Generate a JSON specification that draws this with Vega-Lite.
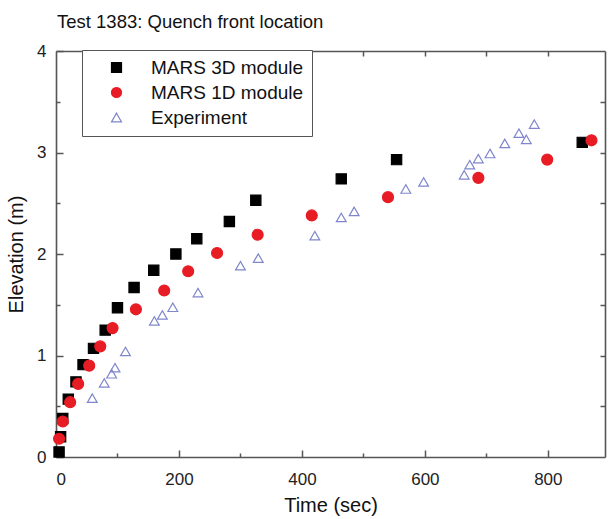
{
  "$schema": "https://vega.github.io/schema/vega-lite/v6.json",
  "width": 549,
  "height": 406,
  "autosize": {"type": "none"},
  "padding": {"left": 56, "top": 51, "right": 5, "bottom": 62},
  "title": {
    "text": "Test 1383: Quench front location",
    "anchor": "start",
    "frame": "group",
    "fontSize": 18.5,
    "fontWeight": "normal",
    "font": "Liberation Sans",
    "color": "#111",
    "offset": 11,
    "dx": 1
  },
  "data": {
    "values": [
      {"s": "MARS 3D module", "t": 5, "e": 0.05},
      {"s": "MARS 3D module", "t": 7.5, "e": 0.2},
      {"s": "MARS 3D module", "t": 11, "e": 0.38},
      {"s": "MARS 3D module", "t": 20, "e": 0.57},
      {"s": "MARS 3D module", "t": 32.5, "e": 0.74},
      {"s": "MARS 3D module", "t": 44, "e": 0.91},
      {"s": "MARS 3D module", "t": 61, "e": 1.07},
      {"s": "MARS 3D module", "t": 80, "e": 1.25},
      {"s": "MARS 3D module", "t": 100, "e": 1.47},
      {"s": "MARS 3D module", "t": 127, "e": 1.67},
      {"s": "MARS 3D module", "t": 159, "e": 1.84},
      {"s": "MARS 3D module", "t": 195, "e": 2.0},
      {"s": "MARS 3D module", "t": 229, "e": 2.15},
      {"s": "MARS 3D module", "t": 282, "e": 2.32},
      {"s": "MARS 3D module", "t": 325, "e": 2.53},
      {"s": "MARS 3D module", "t": 464, "e": 2.74},
      {"s": "MARS 3D module", "t": 554, "e": 2.93},
      {"s": "MARS 3D module", "t": 856, "e": 3.1},
      {"s": "MARS 1D module", "t": 5, "e": 0.18},
      {"s": "MARS 1D module", "t": 11, "e": 0.35},
      {"s": "MARS 1D module", "t": 23, "e": 0.54},
      {"s": "MARS 1D module", "t": 36, "e": 0.72},
      {"s": "MARS 1D module", "t": 54, "e": 0.9},
      {"s": "MARS 1D module", "t": 72, "e": 1.09},
      {"s": "MARS 1D module", "t": 92, "e": 1.27},
      {"s": "MARS 1D module", "t": 130, "e": 1.455},
      {"s": "MARS 1D module", "t": 176, "e": 1.64},
      {"s": "MARS 1D module", "t": 215, "e": 1.83},
      {"s": "MARS 1D module", "t": 262, "e": 2.01},
      {"s": "MARS 1D module", "t": 328, "e": 2.19},
      {"s": "MARS 1D module", "t": 416, "e": 2.38},
      {"s": "MARS 1D module", "t": 540, "e": 2.56},
      {"s": "MARS 1D module", "t": 687, "e": 2.75},
      {"s": "MARS 1D module", "t": 799, "e": 2.93},
      {"s": "MARS 1D module", "t": 871, "e": 3.12},
      {"s": "Experiment", "t": 59, "e": 0.58},
      {"s": "Experiment", "t": 78.5, "e": 0.73},
      {"s": "Experiment", "t": 90.5, "e": 0.82},
      {"s": "Experiment", "t": 96, "e": 0.88},
      {"s": "Experiment", "t": 113, "e": 1.04},
      {"s": "Experiment", "t": 160, "e": 1.34},
      {"s": "Experiment", "t": 173, "e": 1.4},
      {"s": "Experiment", "t": 190, "e": 1.475},
      {"s": "Experiment", "t": 231, "e": 1.62},
      {"s": "Experiment", "t": 300, "e": 1.885},
      {"s": "Experiment", "t": 329, "e": 1.96},
      {"s": "Experiment", "t": 421, "e": 2.18},
      {"s": "Experiment", "t": 464, "e": 2.36},
      {"s": "Experiment", "t": 485, "e": 2.42},
      {"s": "Experiment", "t": 569, "e": 2.64},
      {"s": "Experiment", "t": 598, "e": 2.71},
      {"s": "Experiment", "t": 664, "e": 2.78},
      {"s": "Experiment", "t": 673, "e": 2.88},
      {"s": "Experiment", "t": 687, "e": 2.94},
      {"s": "Experiment", "t": 706, "e": 2.99},
      {"s": "Experiment", "t": 730, "e": 3.09},
      {"s": "Experiment", "t": 753, "e": 3.19},
      {"s": "Experiment", "t": 765, "e": 3.13},
      {"s": "Experiment", "t": 778, "e": 3.28}
    ]
  },
  "layer": [
    {
      "transform": [{"filter": "datum.s === 'MARS 3D module'"}],
      "mark": {"type": "point", "opacity": 1, "size": 105, "strokeWidth": 1.2},
      "encoding": {
        "x": {"field": "t", "type": "quantitative", "scale": {"domain": [0, 893], "nice": false, "zero": false},
          "axis": {"orient": "bottom", "values": [0, 200, 400, 600, 800], "tickSize": -7, "labelPadding": 21, "title": "Time (sec)", "titlePadding": 8}},
        "y": {"field": "e", "type": "quantitative", "scale": {"domain": [0, 4], "nice": false, "zero": false},
          "axis": {"orient": "left", "values": [0, 1, 2, 3, 4], "tickSize": -7, "labelPadding": 17, "title": "Elevation (m)", "titlePadding": 10}},
        "shape": {"field": "s", "type": "nominal", "title": null, "scale": {"domain": ["MARS 3D module", "MARS 1D module", "Experiment"], "range": ["square", "circle", "triangle-up"]}},
        "fill": {"field": "s", "type": "nominal", "title": null, "scale": {"domain": ["MARS 3D module", "MARS 1D module", "Experiment"], "range": ["#000000", "#e81c24", "transparent"]}},
        "stroke": {"field": "s", "type": "nominal", "title": null, "scale": {"domain": ["MARS 3D module", "MARS 1D module", "Experiment"], "range": ["#000000", "#e81c24", "#7f86cc"]}}
      }
    },
    {
      "transform": [{"filter": "datum.s === 'MARS 1D module'"}],
      "mark": {"type": "point", "opacity": 1, "size": 120, "strokeWidth": 1.2},
      "encoding": {
        "x": {"field": "t", "type": "quantitative",
          "axis": {"orient": "bottom", "values": [100, 300, 500, 700], "tickSize": -4, "labels": false, "domain": false, "title": null}},
        "y": {"field": "e", "type": "quantitative",
          "axis": {"orient": "left", "values": [0.5, 1.5, 2.5, 3.5], "tickSize": -4, "labels": false, "domain": false, "title": null}},
        "shape": {"field": "s", "type": "nominal", "title": null},
        "fill": {"field": "s", "type": "nominal", "title": null},
        "stroke": {"field": "s", "type": "nominal", "title": null}
      }
    },
    {
      "transform": [{"filter": "datum.s === 'Experiment'"}],
      "mark": {"type": "point", "opacity": 1, "size": 95, "strokeWidth": 1.2},
      "encoding": {
        "x": {"field": "t", "type": "quantitative",
          "axis": {"orient": "top", "values": [100, 200, 300, 400, 500, 600, 700, 800], "tickSize": -5, "labels": false, "title": null}},
        "y": {"field": "e", "type": "quantitative",
          "axis": {"orient": "right", "values": [0.5, 1, 1.5, 2, 2.5, 3, 3.5], "tickSize": -5, "labels": false, "title": null}},
        "shape": {"field": "s", "type": "nominal", "title": null},
        "fill": {"field": "s", "type": "nominal", "title": null},
        "stroke": {"field": "s", "type": "nominal", "title": null}
      }
    }
  ],
  "resolve": {"axis": {"x": "independent", "y": "independent"}},
  "config": {
    "view": {"stroke": null},
    "axis": {
      "grid": false,
      "domainColor": "#555555",
      "domainWidth": 1.6,
      "tickColor": "#555555",
      "tickWidth": 1.5,
      "labelFont": "Liberation Sans",
      "labelFontSize": 17,
      "labelColor": "#222222",
      "titleFont": "Liberation Sans",
      "titleFontSize": 20,
      "titleFontWeight": "normal",
      "titleColor": "#111111"
    },
    "legend": {
      "orient": "none",
      "legendX": 26,
      "legendY": -1,
      "padding": 8,
      "strokeColor": "#555555",
      "fillColor": "white",
      "labelFont": "Liberation Sans",
      "labelFontSize": 19,
      "labelColor": "#111111",
      "symbolSize": 100,
      "symbolStrokeWidth": 1.2,
      "rowPadding": 5,
      "labelOffset": 25,
      "symbolOffset": 17
    }
  }
}
